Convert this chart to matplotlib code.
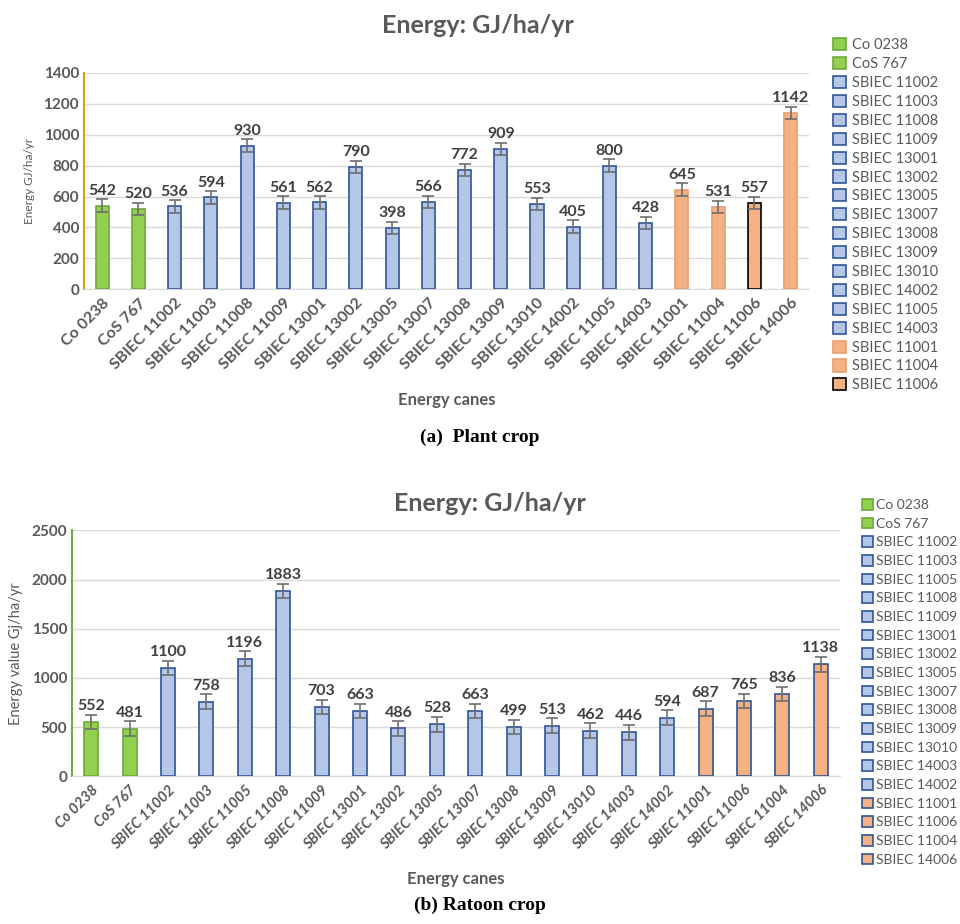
import matplotlib
matplotlib.use("Agg")
import matplotlib.pyplot as plt
from matplotlib.patches import Patch
import numpy as np

plt.rcParams['font.family'] = ['Lato', 'DejaVu Sans']

# ---- Plant crop data ----
plant_cats = ["Co 0238", "CoS 767", "SBIEC 11002", "SBIEC 11003", "SBIEC 11008", "SBIEC 11009",
              "SBIEC 13001", "SBIEC 13002", "SBIEC 13005", "SBIEC 13007", "SBIEC 13008", "SBIEC 13009",
              "SBIEC 13010", "SBIEC 14002", "SBIEC 11005", "SBIEC 14003", "SBIEC 11001", "SBIEC 11004",
              "SBIEC 11006", "SBIEC 14006"]
plant_vals = [542, 520, 536, 594, 930, 561, 562, 790, 398, 566, 772, 909, 553, 405, 800, 428, 645, 531, 557, 1142]
plant_err = [40] * 20
plant_groups = ["g", "g"] + ["b"] * 14 + ["o"] * 4
plant_legend = plant_cats[:19]

# ---- Ratoon crop data ----
ratoon_cats = ["Co 0238", "CoS 767", "SBIEC 11002", "SBIEC 11003", "SBIEC 11005", "SBIEC 11008",
               "SBIEC 11009", "SBIEC 13001", "SBIEC 13002", "SBIEC 13005", "SBIEC 13007", "SBIEC 13008",
               "SBIEC 13009", "SBIEC 13010", "SBIEC 14003", "SBIEC 14002", "SBIEC 11001", "SBIEC 11006",
               "SBIEC 11004", "SBIEC 14006"]
ratoon_vals = [552, 481, 1100, 758, 1196, 1883, 703, 663, 486, 528, 663, 499, 513, 462, 446, 594, 687, 765, 836, 1138]
ratoon_err = [75] * 20
ratoon_groups = ["g", "g"] + ["b"] * 14 + ["o"] * 4

fills = {"g": "#92D050", "b": "#B4C7E7", "o": "#F4B183"}
edges_top = {"g": "#6FA83A", "b": "#2F5597", "o": "#E8A070"}
edges_bot = {"g": "#6FA83A", "b": "#2F5597", "o": "#2F5597"}

grey = "#595959"
dark = "#404040"

fig = plt.figure(figsize=(9.6, 9.24), dpi=100)


def draw(ax, cats, vals, errs, groups, edges, ymax, ystep, ylabel, ylabel_size, spine_color, label_pad,
         tick_size, tick_style, special_edge=None):
    x = np.arange(len(cats))
    ec = [edges[g] for g in groups]
    if special_edge:
        for i, c in special_edge.items():
            ec[i] = c
    ax.bar(x, vals, width=0.36, color=[fills[g] for g in groups], edgecolor=ec, linewidth=1.2, zorder=3)
    ax.errorbar(x, vals, yerr=errs, fmt='none', ecolor="#6E6E6E", elinewidth=1.2, capsize=4, capthick=1.2, zorder=4)
    for xi, v, e in zip(x, vals, errs):
        ax.text(xi, v + e + label_pad, str(v), ha='center', va='bottom', fontsize=11.5,
                fontweight='bold', color=dark, zorder=5)
    ax.set_xlim(-0.5, len(cats) - 0.5)
    ax.set_ylim(0, ymax)
    ax.set_yticks(np.arange(0, ymax + 1, ystep))
    ax.yaxis.grid(True, color="#D9D9D9", linewidth=1)
    ax.set_axisbelow(True)
    for s in ["top", "right"]:
        ax.spines[s].set_visible(False)
    ax.spines["left"].set_color(spine_color)
    ax.spines["left"].set_linewidth(1.5)
    ax.spines["bottom"].set_color("#D9D9D9")
    ax.tick_params(axis='both', length=0, colors=grey)
    ax.tick_params(axis='x', pad=5)
    ax.set_xticks(x)
    ax.set_xticklabels(cats, rotation=45, ha='right', rotation_mode='anchor', fontsize=tick_size,
                       fontweight='bold', fontstyle=tick_style, color=grey)
    for t in ax.get_yticklabels():
        t.set_fontweight('bold'); t.set_fontsize(11)
    ax.set_ylabel(ylabel, fontsize=ylabel_size, color=grey, labelpad=6)
    ax.set_xlabel("Energy canes", fontsize=12, fontweight='bold', color=grey, labelpad=14)


ax1 = fig.add_axes([0.0875, 0.687, 0.755, 0.234])
draw(ax1, plant_cats, plant_vals, plant_err, plant_groups, edges_top, 1400, 200,
     "Energy GJ/ha/yr", 8.5, "#D4A017", 10, 11.5, 'normal', special_edge={18: "#000000"})
ax1.set_title("Energy: GJ/ha/yr", fontsize=18, fontweight='bold', color=grey, pad=29, x=0.544)

h1 = [Patch(facecolor=fills[g], edgecolor=(edges_top[g] if i != 18 else "#000000"), linewidth=1.2)
      for i, g in enumerate(plant_groups[:19])]
leg1 = fig.legend(h1, plant_legend, loc='upper left', bbox_to_anchor=(0.862, 0.965), frameon=False,
                  fontsize=10.5, labelcolor=grey, handlelength=0.9, handleheight=0.9, handletextpad=0.4,
                  labelspacing=0.33, borderaxespad=0)

ax2 = fig.add_axes([0.075, 0.160, 0.800, 0.266])
draw(ax2, ratoon_cats, ratoon_vals, ratoon_err, ratoon_groups, edges_bot, 2500, 500,
     "Energy value Gj/ha/yr", 10.5, "#70AD47", 15, 10.5, 'italic')
ax2.set_title("Energy: GJ/ha/yr", fontsize=18, fontweight='bold', color=grey, pad=14, x=0.544)

h2 = [Patch(facecolor=fills[g], edgecolor=edges_bot[g], linewidth=1.2) for g in ratoon_groups]
leg2 = fig.legend(h2, ratoon_cats, loc='upper left', bbox_to_anchor=(0.892, 0.466), frameon=False,
                  fontsize=10, labelcolor=grey, handlelength=0.8, handleheight=0.8, handletextpad=0.2,
                  labelspacing=0.47, borderaxespad=0)

fig.text(0.5, 0.527, "(a)  Plant crop", ha='center', va='center', fontsize=14, fontweight='bold',
         family='Liberation Serif')
fig.text(0.5, 0.020, "(b) Ratoon crop", ha='center', va='center', fontsize=14, fontweight='bold',
         family='Liberation Serif')

fig.savefig("out.png", dpi=100)
